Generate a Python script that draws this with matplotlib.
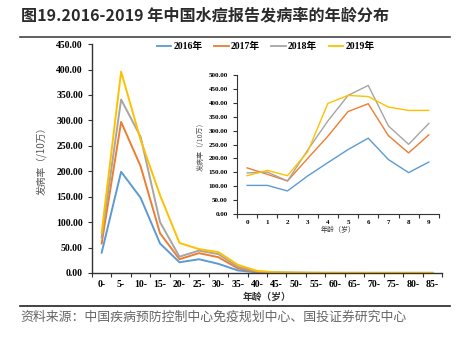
import matplotlib.pyplot as plt
import numpy as np
from matplotlib.lines import Line2D

# age groups (main chart)
groups = ["0-", "5-", "10-", "15-", "20-", "25-", "30-", "35-", "40-", "45-",
          "50-", "55-", "60-", "65-", "70-", "75-", "80-", "85-"]
rate_2016 = [40, 199, 148, 58, 21, 27, 18, 5, 1.2, 0.4, 0.2, 0.1, 0.1, 0.1, 0.1, 0.1, 0.1, 0.1]
rate_2017 = [58, 297, 210, 78, 27, 39, 31, 9, 2.0, 0.6, 0.3, 0.2, 0.1, 0.1, 0.1, 0.1, 0.1, 0.1]
rate_2018 = [70, 341, 268, 100, 32, 44, 37, 12, 3.0, 0.8, 0.4, 0.2, 0.2, 0.1, 0.1, 0.1, 0.1, 0.1]
rate_2019 = [79, 396, 262, 153, 59, 47, 41, 16, 4.0, 1.0, 0.5, 0.3, 0.2, 0.2, 0.1, 0.1, 0.1, 0.1]

# single years of age (inset)
ages = ["0", "1", "2", "3", "4", "5", "6", "7", "8", "9"]
inset_2016 = [103, 103, 83, 137, 185, 232, 273, 196, 149, 187]
inset_2017 = [166, 143, 119, 200, 280, 369, 397, 282, 220, 285]
inset_2018 = [148, 151, 119, 230, 335, 427, 463, 317, 251, 326]
inset_2019 = [138, 157, 138, 224, 398, 427, 423, 385, 373, 373]

years = ["2016年", "2017年", "2018年", "2019年"]
colors = ["#5B9BD5", "#ED7D31", "#A5A5A5", "#FFC000"]

SERIF = ["Liberation Serif", "Noto Sans CJK SC"]
CJK = ["Noto Sans CJK SC", "DejaVu Sans"]


def style_axes(ax, labels, ymax, step, fs, lw):
    x = np.arange(len(labels))
    ax.set_xlim(-0.5, len(labels) - 0.5)
    ax.set_ylim(0, ymax)
    ax.set_xticks(np.arange(len(labels) + 1) - 0.5)
    ax.set_xticklabels([])
    ax.set_xticks(x, minor=True)
    ax.set_xticklabels(labels, minor=True, family=SERIF, weight="bold", fontsize=fs)
    ax.tick_params(axis="x", which="minor", length=0, pad=5)
    ax.tick_params(axis="x", which="major", length=3, width=0.8, color="#333333")
    ax.set_yticks(np.arange(0, ymax + 1, step))
    ax.set_yticklabels(["%.2f" % v for v in np.arange(0, ymax + 1, step)],
                       family=SERIF, weight="bold", fontsize=fs)
    ax.tick_params(axis="y", length=3, width=0.8, color="#333333")
    for s in ["top", "right"]:
        ax.spines[s].set_visible(False)
    for s in ["left", "bottom"]:
        ax.spines[s].set_color("#333333")
        ax.spines[s].set_linewidth(lw)
    return x


fig = plt.figure(figsize=(4.62, 3.37), dpi=100)

# main chart
ax = fig.add_axes([0.199, 0.190, 0.758, 0.679])
x = style_axes(ax, groups, 450, 50, 7, 1.0)
for vals, c in zip([rate_2016, rate_2017, rate_2018, rate_2019], colors):
    ax.plot(x, vals, color=c, lw=1.4)
ax.set_ylabel("发病率（/10万）", family=CJK, fontsize=7, color="#555555", labelpad=7)
ax.set_xlabel("年龄（岁）", family=CJK, fontsize=7, weight="bold", color="#333333", labelpad=2)

# inset
ins = fig.add_axes([0.513, 0.365, 0.437, 0.412])
xi = style_axes(ins, ages, 500, 50, 5, 0.8)
ins.tick_params(axis="x", which="minor", pad=4)
for vals, c in zip([inset_2016, inset_2017, inset_2018, inset_2019], colors):
    ins.plot(xi, vals, color=c, lw=1.0)
ins.set_ylabel("发病率（/10万）", family=CJK, fontsize=5, color="#555555", labelpad=3)
ins.set_xlabel("年龄（岁）", family=CJK, fontsize=5, color="#333333", labelpad=1)

# legend
handles = [Line2D([], [], color=c, lw=1.3) for c in colors]
fig.legend(handles, years, loc="center", bbox_to_anchor=(0.575, 0.862), ncol=4,
           frameon=False, prop={"family": SERIF, "weight": "bold", "size": 7},
           handlelength=1.5, handletextpad=0.2, columnspacing=1.2)

# title and source
fig.text(0.045, 0.955, "图19.2016-2019 年中国水痘报告发病率的年龄分布", family=CJK,
         fontsize=11.6, weight="bold", color="#2b2b2b", va="center")
fig.add_artist(Line2D([0.043, 0.975], [0.89, 0.89], color="#444444", lw=1.2))
fig.add_artist(Line2D([0.043, 0.975], [0.092, 0.092], color="#222222", lw=1.2))
fig.text(0.045, 0.058, "资料来源：中国疾病预防控制中心免疫规划中心、国投证券研究中心",
         family=CJK, fontsize=9.3, style="italic", color="#666666", va="center")

fig.savefig("out.png", dpi=100)
